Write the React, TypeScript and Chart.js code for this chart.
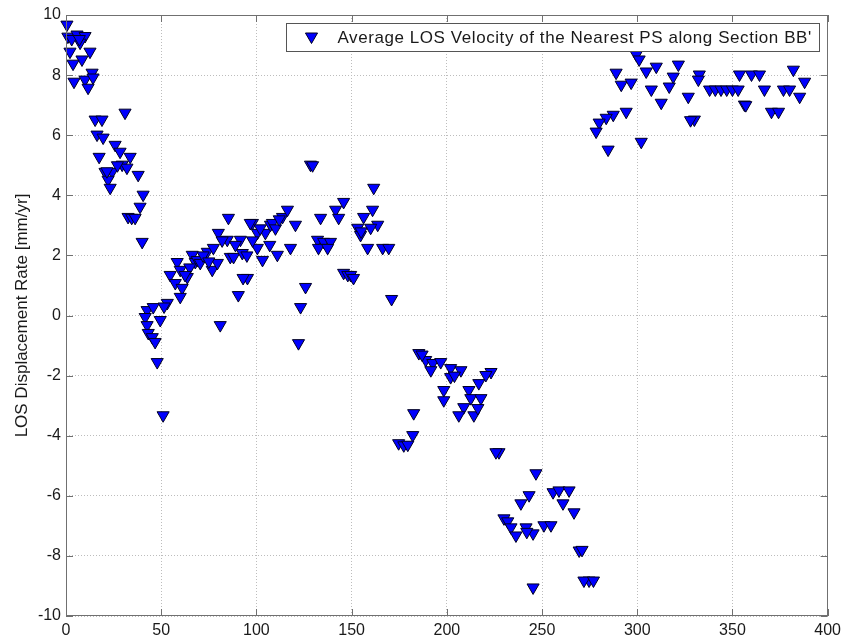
import React, { useEffect, useRef } from 'react';
import { Chart, registerables } from 'chart.js';

Chart.register(...registerables);

// Distance along section (x) and LOS velocity (y)
const distanceAlongSection: number[] = [
  0.5, 1, 5.8, 10, 7.4, 2.1, 12.6, 8.4, 3.7, 13.7, 4.2, 10, 11.6, 14.2, 3, 7,
  31, 15.3, 18.9, 16.3, 19.5, 25.8, 28.4, 33.7, 17.4, 29.5, 32, 20.5, 24.2, 22.1, 23.2, 37.9, 40.5, 38.9, 32.6, 34.5, 36.3, 40, 21.5, 27,
  42.6, 45.8, 53.2, 41.6, 49.5, 42.6, 43.2, 45.3, 46.8, 47.9, 51, 51.5,
  58.4, 54.7, 60, 63.7, 57.4, 61, 60, 66.3, 67.9, 68.9, 70.5, 74.2, 76.8, 77.4, 80, 79.5, 84.7, 85.3, 81, 86.3, 88, 90.5, 95.3, 93, 92.6, 91.6, 97.9, 100.5, 100.5, 103.2, 104.7, 107.4, 111, 113.7, 116.3, 117.9, 120.5, 108.4, 96.8, 107, 72, 65, 62.5, 75, 82, 89, 95, 98, 102, 110, 112,
  128.4, 129.5, 161.6, 133.7, 141.6, 145.8, 143.2, 161, 156.3, 153.2, 163.7, 154.7, 160, 132.1, 135.3, 138.9, 132.6, 137.4, 158.4, 166.3, 169.5, 145.8, 148, 149.5, 151, 125.8, 123.2, 122.1, 171, 155,
  185.3, 188.9, 192.6, 196.8, 191.6, 202, 207.4, 202, 223.2, 220.5, 216.8, 198.4, 198.4, 211.6, 212.6, 217.9, 208.9, 206.3, 214.2, 216.3, 182.6, 182.1, 174.7, 177.4, 179.5, 227.4, 225.8, 187, 204,
  246.8, 243.2, 238.9, 230, 232, 233.7, 236.3, 241.6, 245.3, 251, 254.7, 255.8, 258.9, 264.2, 261, 266.8, 269.5, 271, 274.7, 272, 277, 245.3, 242,
  299.5, 301, 304.7, 310, 321.6, 288.9, 291.6, 296.8, 307.4, 312.6, 316.8, 318.9, 326.8, 330, 332.6, 332.1, 338, 341, 344, 347, 350, 353, 353.7, 360, 364.2, 356.3, 366.8, 370.5, 374.2, 376.8, 380, 382, 387.9, 385.3, 294.2, 287.4, 283.7, 280, 278.4, 284.7, 302.1, 328, 357,
];

const losVelocity: number[] = [
  9.68, 9.28, 9.35, 9.3, 9.08, 8.78, 8.78, 8.52, 8.38, 8.08, 7.78, 7.85, 7.58, 7.92, 9.2, 9.2,
  6.75, 6.52, 6.52, 6.02, 5.92, 5.68, 5.45, 5.28, 5.28, 5.02, 4.92, 4.78, 4.78, 4.52, 4.25, 4.68, 4.02, 3.62, 3.28, 3.25, 3.25, 2.45, 4.8, 5.0,
  0.18, 0.28, 0.42, -0.05, -0.15, -0.32, -0.58, -0.72, -0.88, -1.55, -3.32, 0.3,
  1.78, 1.35, 1.52, 1.28, 1.08, 0.92, 0.62, 2.02, 1.78, 1.85, 1.75, 2.12, 1.52, 2.25, 2.75, 1.75, 2.52, 3.25, -0.32, 1.95, 1.95, 0.68, 1.25, 1.25, 2.08, 2.52, 3.08, 2.75, 2.25, 1.85, 2.75, 3.02, 2.02, 3.28, 3.52, 2.25, 3.02, 3.08, 3.08, 2.35, 2.0, 1.6, 1.35, 1.8, 2.5, 2.35, 2.0, 2.5, 2.9, 2.9, 3.2,
  5.02, 5.0, 4.25, 3.25, 3.52, 3.78, 3.25, 3.52, 3.28, 2.92, 3.02, 2.68, 2.92, 2.52, 2.45, 2.45, 2.25, 2.25, 2.25, 2.25, 2.25, 1.42, 1.35, 1.35, 1.25, 0.95, 0.28, -0.92, 0.55, 2.8,
  -1.25, -1.48, -1.58, -1.55, -1.82, -1.75, -1.82, -2.05, -1.88, -1.98, -2.25, -2.48, -2.82, -2.48, -2.75, -2.75, -3.05, -3.32, -3.32, -3.08, -3.25, -3.98, -4.25, -4.32, -4.3, -4.55, -4.55, -1.3, -2.0,
  -5.25, -5.98, -6.25, -6.75, -6.85, -7.05, -7.32, -7.05, -7.25, -6.98, -6.98, -5.88, -5.82, -5.82, -6.25, -6.55, -7.82, -7.8, -8.82, -8.82, -8.82, -9.05, -7.2,
  8.68, 8.52, 8.12, 8.28, 8.35, 8.08, 7.68, 7.75, 7.52, 7.08, 7.62, 7.95, 7.28, 6.52, 8.02, 7.85, 7.52, 7.52, 7.52, 7.52, 7.52, 7.52, 8.02, 8.02, 8.02, 7.02, 7.52, 6.78, 6.78, 7.52, 7.52, 8.18, 7.78, 7.28, 6.78, 6.68, 6.58, 6.42, 6.12, 5.52, 5.78, 6.5, 7.0,
];

const seriesLabel = "Average LOS Velocity of the Nearest PS along Section BB'";
const yAxisTitle = 'LOS Displacement Rate [mm/yr]';

const FONT = '"Liberation Sans", Arial, Helvetica, sans-serif';
const MARKER_RADIUS = 7;
const LEGEND_TEXT_WIDTH = 474;

function drawDownTriangle(ctx: CanvasRenderingContext2D, x: number, y: number, r: number) {
  ctx.beginPath();
  let rad = Math.PI;
  ctx.moveTo(x + Math.sin(rad) * r, y - Math.cos(rad) * r);
  rad += (2 * Math.PI) / 3;
  ctx.lineTo(x + Math.sin(rad) * r, y - Math.cos(rad) * r);
  rad += (2 * Math.PI) / 3;
  ctx.lineTo(x + Math.sin(rad) * r, y - Math.cos(rad) * r);
  ctx.closePath();
  ctx.fillStyle = '#0000ff';
  ctx.fill();
  ctx.strokeStyle = '#000022';
  ctx.lineWidth = 1;
  ctx.stroke();
}

const framePlugin = {
  id: 'matlabFrame',
  afterDraw(chart: any) {
    const { ctx, chartArea: a, scales } = chart;
    ctx.save();
    ctx.strokeStyle = '#707070';
    ctx.lineWidth = 1;
    ctx.strokeRect(Math.round(a.left) + 0.5, Math.round(a.top) + 0.5, Math.round(a.right - a.left) - 1, Math.round(a.bottom - a.top) - 1);
    const tl = 7;
    ctx.beginPath();
    scales.x.ticks.forEach((t: any) => {
      const px = Math.round(scales.x.getPixelForValue(t.value)) + 0.5;
      ctx.moveTo(px, a.bottom);
      ctx.lineTo(px, a.bottom - tl);
      ctx.moveTo(px, a.top);
      ctx.lineTo(px, a.top + tl);
    });
    scales.y.ticks.forEach((t: any) => {
      const py = Math.round(scales.y.getPixelForValue(t.value)) + 0.5;
      ctx.moveTo(a.left, py);
      ctx.lineTo(a.left + tl, py);
      ctx.moveTo(a.right, py);
      ctx.lineTo(a.right - tl, py);
    });
    ctx.stroke();

    // Legend inside the plot, top right
    ctx.font = `17px ${FONT}`;
    const rawW = ctx.measureText(seriesLabel).width;
    const spacing = Math.max(0, (LEGEND_TEXT_WIDTH - rawW) / seriesLabel.length);
    (ctx as any).letterSpacing = `${spacing.toFixed(2)}px`;
    const tw = ctx.measureText(seriesLabel).width;
    const right = Math.round(a.right) - 8.5;
    const top = Math.round(a.top) + 8.5;
    const h = 28;
    const left = Math.round(right - (tw + 59)) + 0.5;
    ctx.fillStyle = '#ffffff';
    ctx.fillRect(left, top, right - left, h);
    ctx.strokeStyle = '#555555';
    ctx.strokeRect(left, top, right - left, h);
    drawDownTriangle(ctx, left + 25, top + h / 2 - 1, MARKER_RADIUS);
    ctx.fillStyle = '#1a1a1a';
    ctx.textBaseline = 'middle';
    ctx.textAlign = 'left';
    ctx.fillText(seriesLabel, left + 51, top + h / 2 + 1);
    ctx.restore();
  },
};

export default function App() {
  const canvasRef = useRef<HTMLCanvasElement | null>(null);

  useEffect(() => {
    if (!canvasRef.current) return;
    const points = distanceAlongSection.map((x, i) => ({ x, y: losVelocity[i] }));
    const chart = new Chart(canvasRef.current, {
      type: 'scatter',
      data: {
        datasets: [
          {
            label: seriesLabel,
            data: points,
            pointStyle: 'triangle',
            rotation: 180,
            radius: MARKER_RADIUS,
            pointRadius: MARKER_RADIUS,
            backgroundColor: '#0000ff',
            borderColor: '#000022',
            borderWidth: 1,
            clip: false,
          } as any,
        ],
      },
      options: {
        animation: false,
        responsive: true,
        maintainAspectRatio: false,
        layout: { padding: { top: 15, right: 18, left: 0, bottom: 0 } },
        plugins: {
          legend: { display: false },
          tooltip: { enabled: false },
        },
        scales: {
          x: {
            type: 'linear',
            min: 0,
            max: 400,
            ticks: { stepSize: 50, color: '#1a1a1a', font: { size: 16, family: FONT }, padding: 5, maxRotation: 0 },
            grid: { color: '#bdbdbd', drawTicks: false, lineWidth: 1 },
            border: { display: false, dash: [1, 2] },
            afterFit: (s: any) => { s.height = 25; },
          },
          y: {
            type: 'linear',
            min: -10,
            max: 10,
            ticks: { stepSize: 2, color: '#1a1a1a', font: { size: 16, family: FONT }, padding: 5 },
            grid: { color: '#bdbdbd', drawTicks: false, lineWidth: 1 },
            border: { display: false, dash: [1, 2] },
            title: {
              display: true,
              text: yAxisTitle,
              color: '#1a1a1a',
              font: { size: 17, family: FONT },
              padding: { top: 12, bottom: 0 },
            },
            afterFit: (s: any) => { s.width = 66; },
          },
        },
      },
      plugins: [framePlugin],
    });
    return () => chart.destroy();
  }, []);

  return (
    <div style={{ position: 'absolute', left: 0, top: 0, width: 846, height: 641, background: '#fff' }}>
      <canvas ref={canvasRef} />
    </div>
  );
}
